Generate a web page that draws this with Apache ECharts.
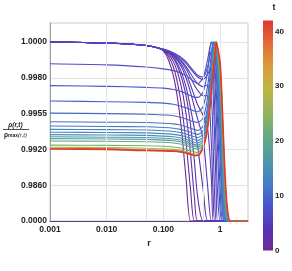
<!DOCTYPE html>
<html><head><meta charset="utf-8">
<script src="https://cdn.jsdelivr.net/npm/echarts@6/dist/echarts.min.js"></script>
<style>html,body{margin:0;padding:0;background:#fff}#c{width:292px;height:271px}</style>
</head><body><div id="c"></div>
<script>
// radial grid r shared by all curves
const rGrid = [0.001, 0.01, 0.05, 0.1, 0.15, 0.2, 0.25, 0.3, 0.35, 0.4, 0.5, 0.6, 0.7, 0.75, 0.8, 0.85, 0.9, 1.0, 1.1, 1.2, 1.3, 1.4, 1.5, 3.1];
// times of the curves
const tValues = [0, 1, 2, 3, 3.5, 4, 4.5, 5, 5.5, 6, 6.5, 7, 8, 9, 10, 11, 12, 13, 14, 15, 16, 18, 20, 23, 27, 32, 42];
// rho(r,t)/rho_max(r,t)
const rho_t00 = [1, 0.99994, 0.9998, 0.9995, 0.9981, 0.9948, 0.9872, 0, 0, 0, 0, 0, 0, 0, 0, 0, 0, 0, 0, 0, 0, 0, 0, 0];
const rho_t01 = [1, 0.99994, 0.9998, 0.99952, 0.9986, 0.9965, 0.9927, 0.8874, 0, 0, 0, 0, 0, 0, 0, 0, 0, 0, 0, 0, 0, 0, 0, 0];
const rho_t02 = [1, 0.99994, 0.9998, 0.99954, 0.9989, 0.99763, 0.9955, 0.9914, 0.6902, 0, 0, 0, 0, 0, 0, 0, 0, 0, 0, 0, 0, 0, 0, 0];
const rho_t03 = [1, 0.99994, 0.9998, 0.99956, 0.9991, 0.9982, 0.99675, 0.99445, 0.9902, 0.6902, 0, 0, 0, 0, 0, 0, 0, 0, 0, 0, 0, 0, 0, 0];
const rho_t03h = [1, 0.99994, 0.9998, 0.99956, 0.99916, 0.99844, 0.99738, 0.99588, 0.9941, 0.99235, 0.8874, 0, 0, 0, 0, 0, 0, 0, 0, 0, 0, 0, 0, 0];
const rho_t04 = [1, 0.99994, 0.9998, 0.99956, 0.99924, 0.9987, 0.998, 0.997, 0.996, 0.99498, 0.99305, 0.986, 0, 0, 0, 0, 0, 0, 0, 0, 0, 0, 0, 0];
const rho_t04h = [1, 0.99994, 0.9998, 0.99956, 0.99926, 0.99882, 0.99826, 0.9975, 0.99675, 0.99613, 0.99533, 0.9941, 0.9872, 0, 0, 0, 0, 0, 0, 0, 0, 0, 0, 0];
const rho_t05 = [1, 0.99994, 0.9998, 0.99958, 0.9993, 0.99894, 0.9985, 0.998, 0.9975, 0.99713, 0.99675, 0.99675, 0.9927, 0.7888, 0, 0, 0, 0, 0, 0, 0, 0, 0, 0];
const rho_t05h = [1, 0.99994, 0.9998, 0.99958, 0.99932, 0.999, 0.99864, 0.99824, 0.9979, 0.9976, 0.99738, 0.9975, 0.9965, 0.9927, 0.6902, 0, 0, 0, 0, 0, 0, 0, 0, 0];
const rho_t06 = [1, 0.99994, 0.9998, 0.99958, 0.99936, 0.9991, 0.9988, 0.9985, 0.99824, 0.99804, 0.99788, 0.9982, 0.9986, 0.997, 0.99305, 0.8874, 0, 0, 0, 0, 0, 0, 0, 0];
const rho_t06h = [1, 0.99994, 0.9998, 0.9996, 0.9994, 0.99916, 0.9989, 0.9986, 0.99834, 0.99814, 0.99804, 0.9986, 0.9995, 0.9986, 0.996, 0.992, 0.7888, 0, 0, 0, 0, 0, 0, 0];
const rho_t07 = [0.99878, 0.99872, 0.9986, 0.9985, 0.9984, 0.99828, 0.99812, 0.99793, 0.99773, 0.9976, 0.998, 0.999, 1, 0.9995, 0.9982, 0.99575, 0.992, 0.2958, 0, 0, 0, 0, 0, 0];
const rho_t08 = [0.99745, 0.9974, 0.99733, 0.99728, 0.99718, 0.99705, 0.9969, 0.99675, 0.99665, 0.99663, 0.997, 0.9983, 1, 0.9997, 0.9988, 0.99725, 0.9948, 0.8874, 0, 0, 0, 0, 0, 0];
const rho_t09 = [0.99638, 0.99633, 0.99628, 0.99623, 0.99615, 0.99603, 0.9959, 0.99578, 0.99568, 0.99563, 0.996, 0.99738, 0.9993, 1, 0.9995, 0.9983, 0.9965, 0.9902, 0.1972, 0, 0, 0, 0, 0];
const rho_t10 = [0.99553, 0.9955, 0.99543, 0.99536, 0.99529, 0.99515, 0.99498, 0.9948, 0.9947, 0.99463, 0.99508, 0.99663, 0.9989, 1, 0.9997, 0.9988, 0.99738, 0.9927, 0.493, 0, 0, 0, 0, 0];
const rho_t11 = [0.9947, 0.99466, 0.99463, 0.99456, 0.99449, 0.99438, 0.99421, 0.99407, 0.99393, 0.99386, 0.99428, 0.996, 0.9985, 0.9997, 1, 0.9993, 0.9982, 0.9941, 0.7888, 0.0493, 0, 0, 0, 0];
const rho_t12 = [0.99428, 0.99424, 0.99421, 0.99414, 0.99407, 0.99396, 0.99382, 0.99368, 0.99354, 0.99347, 0.99382, 0.99563, 0.9982, 0.9995, 1, 0.9995, 0.9985, 0.99515, 0.986, 0.1479, 0, 0, 0, 0];
const rho_t13 = [0.99396, 0.99393, 0.99389, 0.99382, 0.99375, 0.99365, 0.99351, 0.99337, 0.99323, 0.99316, 0.99351, 0.99533, 0.998, 0.9994, 1, 0.9996, 0.9987, 0.99575, 0.9875, 0.2465, 0, 0, 0, 0];
const rho_t14 = [0.99368, 0.99365, 0.99361, 0.99354, 0.99347, 0.99337, 0.99323, 0.99309, 0.99295, 0.99288, 0.99323, 0.99505, 0.9978, 0.9993, 1, 0.9997, 0.9989, 0.99625, 0.989, 0.3451, 0.0296, 0, 0, 0];
const rho_t15 = [0.99344, 0.9934, 0.99337, 0.9933, 0.99323, 0.99312, 0.99298, 0.99284, 0.9927, 0.99263, 0.99298, 0.9948, 0.99763, 0.9991, 0.99984, 1, 0.9992, 0.99675, 0.9908, 0.493, 0.0789, 0, 0, 0];
const rho_t16 = [0.99323, 0.99319, 0.99316, 0.99309, 0.99302, 0.99291, 0.99277, 0.99263, 0.99249, 0.99242, 0.99277, 0.99459, 0.9975, 0.9989, 0.9997, 1, 0.9993, 0.99725, 0.99218, 0.6902, 0.1479, 0, 0, 0];
const rho_t18 = [0.99305, 0.99302, 0.99298, 0.99291, 0.99284, 0.99274, 0.9926, 0.99246, 0.99232, 0.99225, 0.99253, 0.99442, 0.99738, 0.99876, 0.9996, 1, 0.99944, 0.99763, 0.99305, 0.8874, 0.2465, 0.0296, 0, 0];
const rho_t20 = [0.99282, 0.99279, 0.99275, 0.9927, 0.99263, 0.99253, 0.99239, 0.99225, 0.99211, 0.99204, 0.99239, 0.99428, 0.9973, 0.99864, 0.9995, 1, 0.99954, 0.998, 0.99375, 0.9863, 0.3254, 0.0493, 0, 0];
const rho_t23 = [0.99242, 0.99239, 0.99235, 0.9923, 0.99223, 0.99214, 0.992, 0.99176, 0.99158, 0.99146, 0.99228, 0.99421, 0.99723, 0.99856, 0.9994, 1, 0.9996, 0.9983, 0.99445, 0.9872, 0.4141, 0.0789, 0, 0];
const rho_t27 = [0.99221, 0.99218, 0.99211, 0.99205, 0.992, 0.99188, 0.99164, 0.9914, 0.99122, 0.99116, 0.99225, 0.99417, 0.99718, 0.9985, 0.99932, 1, 0.99964, 0.9985, 0.99487, 0.9881, 0.4733, 0.0986, 0, 0];
const rho_t32 = [0.99211, 0.99207, 0.99194, 0.99185, 0.99179, 0.99167, 0.99149, 0.99125, 0.99107, 0.99104, 0.99221, 0.99414, 0.99715, 0.99844, 0.99926, 1, 0.99968, 0.9987, 0.99522, 0.98858, 0.5127, 0.1085, 0, 0];
const rho_t42 = [0.99204, 0.992, 0.99182, 0.99176, 0.9917, 0.99158, 0.9914, 0.99116, 0.99098, 0.99098, 0.99218, 0.9941, 0.99713, 0.9984, 0.9992, 1, 0.9997, 0.9988, 0.9955, 0.989, 0.5423, 0.1183, 0, 0];

const curves = [rho_t00, rho_t01, rho_t02, rho_t03, rho_t03h, rho_t04, rho_t04h, rho_t05, rho_t05h, rho_t06, rho_t06h, rho_t07, rho_t08, rho_t09, rho_t10, rho_t11, rho_t12, rho_t13, rho_t14, rho_t15, rho_t16, rho_t18, rho_t20, rho_t23, rho_t27, rho_t32, rho_t42];

// axis ticks
const yTickValues = [0, 0.986, 0.992, 0.9955, 0.998, 1.0];
const yTickLabels = ['0.0000', '0.9860', '0.9920', '0.9955', '0.9980', '1.0000'];
const xTickValues = [0.001, 0.01, 0.1, 1];
const xTickLabels = ['0.001', '0.010', '0.100', '1'];
const xMinorGrid = [0.005, 0.05, 0.5];
const tTicks = [0, 10, 20, 30, 40];
const tMax = 42;
const stopPos = [0, 0.1, 0.2, 0.3, 0.4, 0.5, 0.6, 0.7, 0.8, 0.9, 1.0];
const stopColors = ['#6a2a97', '#5934b5', '#4659cc', '#4680c4', '#4f9aa6', '#68a982', '#92b35e', '#bfb546', '#dc9c3b', '#e36b38', '#dc3a2c'];

// the y axis is scaled so that the tick values are evenly spaced
function toAxis(v) {
  for (let i = 0; i < yTickValues.length - 1; i++) {
    const a = yTickValues[i], b = yTickValues[i + 1];
    if (v <= b || i === yTickValues.length - 2) return i + (v - a) / (b - a);
  }
}
function hexRgb(h) { return [parseInt(h.substr(1, 2), 16), parseInt(h.substr(3, 2), 16), parseInt(h.substr(5, 2), 16)]; }
function tColor(t) {
  const f = Math.max(0, Math.min(1, t / tMax));
  for (let i = 0; i < stopPos.length - 1; i++) {
    if (f <= stopPos[i + 1]) {
      const u = (f - stopPos[i]) / (stopPos[i + 1] - stopPos[i]);
      const a = hexRgb(stopColors[i]), b = hexRgb(stopColors[i + 1]);
      return 'rgb(' + a.map((c, k) => Math.round(c + (b[k] - c) * u)).join(',') + ')';
    }
  }
  return stopColors[stopColors.length - 1];
}

const FONT = 'Liberation Sans, Arial, sans-serif';
const chart = echarts.init(document.getElementById('c'), null, { renderer: 'canvas' });

const series = curves.map((vals, k) => ({
  type: 'line',
  xAxisIndex: 0, yAxisIndex: 0,
  data: rGrid.map((r, i) => [r, toAxis(vals[i])]),
  showSymbol: false,
  smooth: 0.3,
  lineStyle: { color: tColor(tValues[k]), width: k === curves.length - 1 ? 1.7 : 1.1 },
  silent: true,
  markLine: k === 0 ? {
    silent: true, symbol: 'none', label: { show: false },
    lineStyle: { color: '#e3e3e3', width: 1, type: 'solid' },
    data: xMinorGrid.map(x => ({ xAxis: x }))
  } : undefined
}));

const grad = stopPos.map((p, i) => ({ offset: p, color: stopColors[i] }));
series.push({
  type: 'bar', xAxisIndex: 1, yAxisIndex: 1, data: [tMax], barWidth: '100%', silent: true,
  itemStyle: { color: new echarts.graphic.LinearGradient(0, 1, 0, 0, grad) }
});

chart.setOption({
  animation: false,
  grid: [
    { left: 50, top: 23, width: 198, height: 198, show: true, borderColor: '#c8c8c8', borderWidth: 1 },
    { left: 263, top: 20.5, width: 10, height: 230 }
  ],
  xAxis: [
    {
      type: 'log', logBase: 10, min: 0.001, max: 3.1, gridIndex: 0,
      name: 'r', nameLocation: 'middle', nameGap: 16,
      nameTextStyle: { fontFamily: FONT, fontSize: 9, fontWeight: 'bold', color: '#222' },
      axisLine: { show: true, onZero: false, lineStyle: { color: '#4d4a85', width: 1 } },
      axisTick: { show: false },
      axisLabel: {
        margin: 4, fontFamily: FONT, fontSize: 8.5, fontWeight: 'bold', color: '#222',
        formatter: v => { for (let i = 0; i < xTickValues.length; i++) { if (Math.abs(Math.log10(v) - Math.log10(xTickValues[i])) < 1e-6) return xTickLabels[i]; } return ''; }
      },
      splitLine: { show: true, lineStyle: { color: '#e3e3e3', width: 1 } }
    },
    { type: 'category', gridIndex: 1, data: ['t'], show: false }
  ],
  yAxis: [
    {
      type: 'value', min: 0, max: 5.53, interval: 1, gridIndex: 0,
      axisLine: { show: true, onZero: false, lineStyle: { color: '#a0a0a0', width: 1 } },
      axisTick: { show: false },
      axisLabel: {
        margin: 3, fontFamily: FONT, fontSize: 8.5, fontWeight: 'bold', color: '#222',
        formatter: v => { const i = Math.round(v); return (Math.abs(v - i) < 1e-6 && i < yTickLabels.length) ? yTickLabels[i] : ''; }
      },
      splitLine: { show: true, lineStyle: { color: '#e3e3e3', width: 1 } }
    },
    {
      type: 'value', gridIndex: 1, min: 0, max: tMax, interval: 10, position: 'right',
      axisLine: { show: false }, axisTick: { show: false }, splitLine: { show: false },
      axisLabel: {
        margin: 2, fontFamily: FONT, fontSize: 8, fontWeight: 'bold', color: '#222',
        formatter: v => tTicks.indexOf(v) >= 0 ? String(v) : ''
      }
    }
  ],
  graphic: [
    { type: 'text', x: 274, y: 8, style: { text: 't', font: 'bold 9px ' + FONT, fill: '#222', align: 'center', verticalAlign: 'middle', textAlign: 'center', textVerticalAlign: 'middle' } },
    { type: 'text', x: 15.5, y: 125, style: { text: 'ρ(r,t)', font: 'italic bold 6.5px ' + FONT, fill: '#222', align: 'center', verticalAlign: 'middle', textAlign: 'center', textVerticalAlign: 'middle' } },
    { type: 'line', shape: { x1: 3, y1: 129.5, x2: 29, y2: 129.5 }, style: { stroke: '#222', lineWidth: 0.8 } },
    { type: 'text', x: 15.5, y: 135, style: {
      text: '{a|ρ}{s|max}{b|(r,t)}', align: 'center', verticalAlign: 'middle', textAlign: 'center', textVerticalAlign: 'middle',
      rich: {
        a: { font: 'bold 6.5px ' + FONT, fill: '#222' },
        s: { font: 'bold 5px ' + FONT, fill: '#222', verticalAlign: 'bottom' },
        b: { font: 'italic 6px ' + FONT, fill: '#222' }
      } } }
  ],
  series: series
});
</script>
</body></html>
